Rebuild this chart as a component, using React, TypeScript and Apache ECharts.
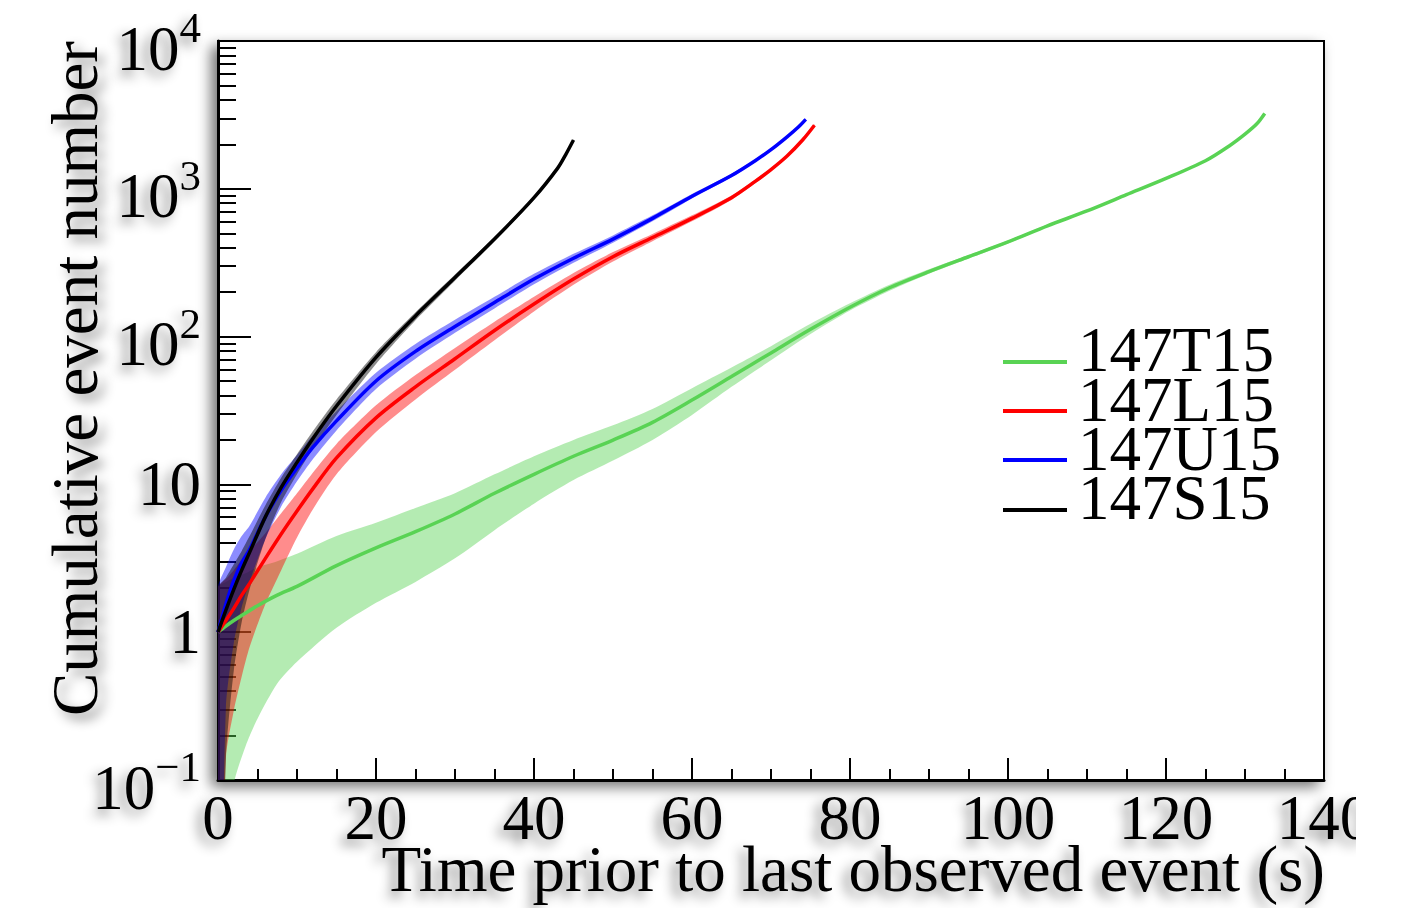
import React, { useEffect, useRef } from "react";
import * as echarts from "echarts";

// ---------------- data ----------------
const X_MIN = 0;
const X_MAX = 140;
const X_INTERVAL = 20;
const Y_MIN = 0.1;
const Y_MAX = 10000;
const Y_MINOR_TICKS = [
  0.2, 0.3, 0.4, 0.5, 0.6, 0.7, 0.8, 0.9,
  2, 3, 4, 5, 6, 7, 8, 9,
  20, 30, 40, 50, 60, 70, 80, 90,
  200, 300, 400, 500, 600, 700, 800, 900,
  2000, 3000, 4000, 5000, 6000, 7000, 8000, 9000,
];

// 147T15
const T15_TIME = [0, 1, 2, 3.5, 5, 7.5, 10, 15, 20, 25, 30, 35, 40, 45, 50, 55, 60, 65, 70, 75, 80, 85, 90, 95, 100, 105, 110, 115, 120, 125, 128, 130, 131.5, 132.5];
const T15_VALUE = [1, 1.1, 1.2, 1.35, 1.51, 1.78, 2.04, 2.82, 3.72, 4.79, 6.31, 8.71, 11.7, 15.5, 19.95, 26.3, 37.2, 53.7, 77.6, 112, 158, 214, 275, 347, 437, 562, 708, 912, 1175, 1549, 1950, 2344, 2754, 3236];
const T15_UPPER = [2.0, 2.19, 2.34, 2.51, 2.75, 3.02, 3.39, 4.47, 5.5, 6.92, 8.71, 11.7, 15.5, 20.0, 25.1, 32.4, 44.7, 61.7, 86.1, 122, 168, 224, 285, 356, 447, 573, 719, 925, 1189, 1563, 1963, 2360, 2773, 3258];
const T15_LOWER = [0.001, 0.035, 0.095, 0.17, 0.26, 0.45, 0.63, 1.07, 1.58, 2.19, 3.16, 4.9, 7.41, 10.7, 14.5, 20.0, 29.5, 45.7, 69.2, 104, 150, 204, 266, 337, 427, 552, 697, 899, 1161, 1535, 1936, 2328, 2735, 3214];

// 147L15
const L15_TIME = [0, 1, 2, 3, 4, 6, 8, 10, 12, 15, 20, 25, 30, 35, 40, 45, 50, 55, 60, 65, 68, 70, 72, 74, 75.5];
const L15_VALUE = [1, 1.2, 1.45, 1.78, 2.14, 3.16, 4.62, 6.61, 9.33, 15.1, 28.2, 45.7, 70.8, 110, 166, 245, 347, 468, 631, 871, 1122, 1349, 1660, 2138, 2692];
const L15_UPPER = [2.0, 2.29, 2.63, 3.09, 3.55, 4.68, 6.38, 8.71, 12.0, 18.8, 34.3, 55.0, 83.8, 126, 186, 269, 373, 495, 661, 902, 1153, 1380, 1694, 2173, 2729];
const L15_LOWER = [0.001, 0.141, 0.295, 0.501, 0.794, 1.55, 2.63, 4.37, 6.76, 11.7, 22.6, 37.6, 59.6, 94.4, 148, 224, 322, 442, 603, 841, 1091, 1318, 1626, 2104, 2655];

// 147U15
const U15_TIME = [0, 1, 2, 3, 4, 6, 8, 10, 12, 15, 20, 25, 30, 35, 40, 45, 50, 55, 60, 65, 68, 70, 72, 73.5, 74.4];
const U15_VALUE = [1, 1.55, 2.24, 2.95, 3.63, 6.03, 9.12, 12.9, 17.8, 26.9, 50.1, 79.4, 117, 170, 245, 339, 457, 631, 891, 1230, 1549, 1841, 2239, 2630, 2951];
const U15_UPPER = [2.0, 2.75, 3.63, 4.47, 5.25, 8.13, 11.7, 15.8, 21.4, 31.3, 56.9, 89.1, 130, 186, 266, 363, 484, 661, 923, 1265, 1585, 1879, 2280, 2673, 2992];
const U15_LOWER = [0.001, 0.31, 0.85, 1.48, 2.19, 4.27, 7.08, 10.5, 14.8, 23.2, 44.2, 70.8, 106, 155, 226, 316, 432, 603, 861, 1197, 1514, 1803, 2198, 2588, 2911];

// 147S15
const S15_TIME = [0, 1, 2, 3, 4, 6, 8, 10, 12, 15, 20, 25, 30, 35, 40, 43, 44, 45];
const S15_VALUE = [1, 1.41, 1.95, 2.63, 3.47, 6.03, 9.55, 14.1, 20.4, 33.9, 72.4, 138, 251, 457, 871, 1380, 1698, 2138];
const S15_UPPER = [2.0, 2.34, 2.88, 3.55, 4.47, 7.24, 11.1, 16.0, 22.9, 37.6, 78.5, 146, 263, 473, 891, 1406, 1722, 2168];
const S15_LOWER = [0.001, 0.14, 0.55, 1.17, 1.95, 4.27, 7.59, 11.7, 17.4, 29.5, 65.3, 129, 239, 441, 847, 1352, 1671, 2104];

const SERIES_NAMES = ["147T15", "147L15", "147U15", "147S15"];
const X_TITLE = "Time prior to last observed event (s)";
const Y_TITLE = "Cumulative event number";

// ---------------- styles ----------------
const FONT = '"Liberation Serif", "Times New Roman", serif';
const LINE_COLORS = ["rgb(89,211,84)", "#ff0000", "#0000ff", "#000000"];
const BAND_COLORS = [
  "rgba(89,211,84,0.45)",
  "rgba(255,0,0,0.45)",
  "rgba(0,0,255,0.45)",
  "rgba(0,0,0,0.45)",
];
const SHADOW = {
  textShadowColor: "rgba(0,0,0,0.45)",
  textShadowBlur: 12,
  textShadowOffsetX: -6,
  textShadowOffsetY: 6,
};

const GRID_LEFT = 218;
const GRID_TOP = 41;
const CHART_W = 1356;
const CHART_H = 908;
const GRID_RIGHT_X = 1324;
const GRID_BOTTOM_Y = 780;

function makeBand(name: string, t: number[], lo: number[], hi: number[], color: string) {
  return {
    type: "custom",
    name: name + " band",
    clip: true,
    silent: true,
    data: [[t[0], 1]],
    renderItem: (_params: any, api: any) => {
      const pts: number[][] = [];
      for (let i = 0; i < t.length; i++) pts.push(api.coord([t[i], hi[i]]));
      for (let i = t.length - 1; i >= 0; i--) pts.push(api.coord([t[i], lo[i]]));
      return {
        type: "polygon",
        shape: { points: pts, smooth: 0.25 },
        style: { fill: color, stroke: null },
      };
    },
  };
}

function makeLine(name: string, t: number[], v: number[], color: string) {
  return {
    type: "line",
    name,
    data: t.map((x, i) => [x, v[i]]),
    showSymbol: false,
    smooth: 0.3,
    clip: true,
    silent: true,
    lineStyle: { color, width: 3.5 },
    itemStyle: { color },
  };
}

export default function App() {
  const ref = useRef<HTMLDivElement>(null);

  useEffect(() => {
    if (!ref.current) return;
    const chart = echarts.init(ref.current, null, { renderer: "svg", width: CHART_W, height: CHART_H });

    const bandSets = [
      [T15_TIME, T15_VALUE, T15_LOWER, T15_UPPER],
      [L15_TIME, L15_VALUE, L15_LOWER, L15_UPPER],
      [U15_TIME, U15_VALUE, U15_LOWER, U15_UPPER],
      [S15_TIME, S15_VALUE, S15_LOWER, S15_UPPER],
    ];
    const series: any[] = [];
    bandSets.forEach((s, i) => {
      series.push(makeBand(SERIES_NAMES[i], s[0], s[2], s[3], BAND_COLORS[i]));
      series.push(makeLine(SERIES_NAMES[i], s[0], s[1], LINE_COLORS[i]));
    });

    const legendX0 = 1003;
    const legendX1 = 1067;
    const legendLineY = [362, 411, 460, 510];
    const legendTextY = [350, 400, 449, 498];
    const legendGraphics: any[] = [];
    SERIES_NAMES.forEach((n, i) => {
      legendGraphics.push({
        type: "line",
        shape: { x1: legendX0, y1: legendLineY[i], x2: legendX1, y2: legendLineY[i] },
        style: { stroke: LINE_COLORS[i], lineWidth: 4 },
      });
      legendGraphics.push({
        type: "text",
        x: 1078,
        y: legendTextY[i],
        style: {
          text: n,
          font: `63px ${FONT}`,
          lineHeight: 46,
          fill: "#000",
          align: "left",
          verticalAlign: "middle",
        },
      });
    });

    const option: any = {
      animation: false,
      backgroundColor: "#fff",
      textStyle: { fontFamily: FONT },
      grid: {
        show: true,
        left: GRID_LEFT,
        top: GRID_TOP,
        right: CHART_W - GRID_RIGHT_X,
        bottom: CHART_H - GRID_BOTTOM_Y,
        containLabel: false,
        outerBoundsMode: "none",
        backgroundColor: "#fff",
        borderColor: "#000",
        borderWidth: 2,
        shadowColor: "rgba(0,0,0,0.55)",
        shadowBlur: 14,
        shadowOffsetX: -6,
        shadowOffsetY: 6,
      },
      xAxis: {
        type: "value",
        min: X_MIN,
        max: X_MAX,
        interval: X_INTERVAL,
        axisLine: { show: true, onZero: false, lineStyle: { color: "#000", width: 3 } },
        axisTick: { show: true, inside: true, length: 22, lineStyle: { color: "#000", width: 2 } },
        minorTick: { show: true, splitNumber: 4, length: 11, lineStyle: { color: "#000", width: 2 } },
        splitLine: { show: false },
        minorSplitLine: { show: false },
        axisLabel: {
          show: true,
          fontSize: 63,
          fontFamily: FONT,
          color: "#000",
          margin: 18,
          lineHeight: 40,
          hideOverlap: false,
          ...SHADOW,
        },
      },
      yAxis: [
        {
          type: "log",
          logBase: 10,
          min: Y_MIN,
          max: Y_MAX,
          axisLine: { show: true, onZero: false, lineStyle: { color: "#000", width: 3 } },
          axisTick: { show: true, inside: true, length: 33, lineStyle: { color: "#000", width: 2 } },
          splitLine: { show: false },
          axisLabel: {
            show: true,
            fontSize: 63,
            fontFamily: FONT,
            color: "#000",
            margin: 17,
            lineHeight: 63,
            ...SHADOW,
            formatter: (v: number) => {
              const e = Math.round(Math.log10(v));
              if (e === 0) return "1";
              if (e === 1) return "10";
              const ex = e < 0 ? "\u2212" + -e : String(e);
              return `{b|10}{e|${ex}}`;
            },
            rich: {
              b: { fontSize: 63, fontFamily: FONT, lineHeight: 63, padding: [15, 0, 0, 0], color: "#000", ...SHADOW },
              e: { fontSize: 43, fontFamily: FONT, lineHeight: 43, padding: [0, 0, 27, 0], color: "#000", ...SHADOW },
            },
          },
        },
        {
          type: "log",
          logBase: 10,
          min: Y_MIN,
          max: Y_MAX,
          position: "left",
          axisLine: { show: false },
          axisLabel: { show: false },
          splitLine: { show: false },
          axisTick: {
            show: true,
            inside: true,
            length: 18,
            customValues: Y_MINOR_TICKS,
            lineStyle: { color: "#000", width: 2 },
          },
        },
      ],
      series,
      graphic: [
        {
          type: "text",
          x: 1325,
          y: 869,
          style: {
            text: X_TITLE,
            font: `65px ${FONT}`,
            lineHeight: 44,
            fill: "#000",
            align: "right",
            verticalAlign: "middle",
            ...SHADOW,
          },
        },
        {
          type: "text",
          x: 75,
          y: 41,
          rotation: Math.PI / 2,
          style: {
            text: Y_TITLE,
            font: `65px ${FONT}`,
            lineHeight: 44,
            fill: "#000",
            align: "right",
            verticalAlign: "middle",
            ...SHADOW,
          },
        },
        ...legendGraphics,
      ],
    };

    chart.setOption(option);
    return () => chart.dispose();
  }, []);

  return (
    <div
      ref={ref}
      style={{ position: "fixed", left: 0, top: 0, width: CHART_W, height: CHART_H, overflow: "hidden", background: "#fff" }}
    />
  );
}
